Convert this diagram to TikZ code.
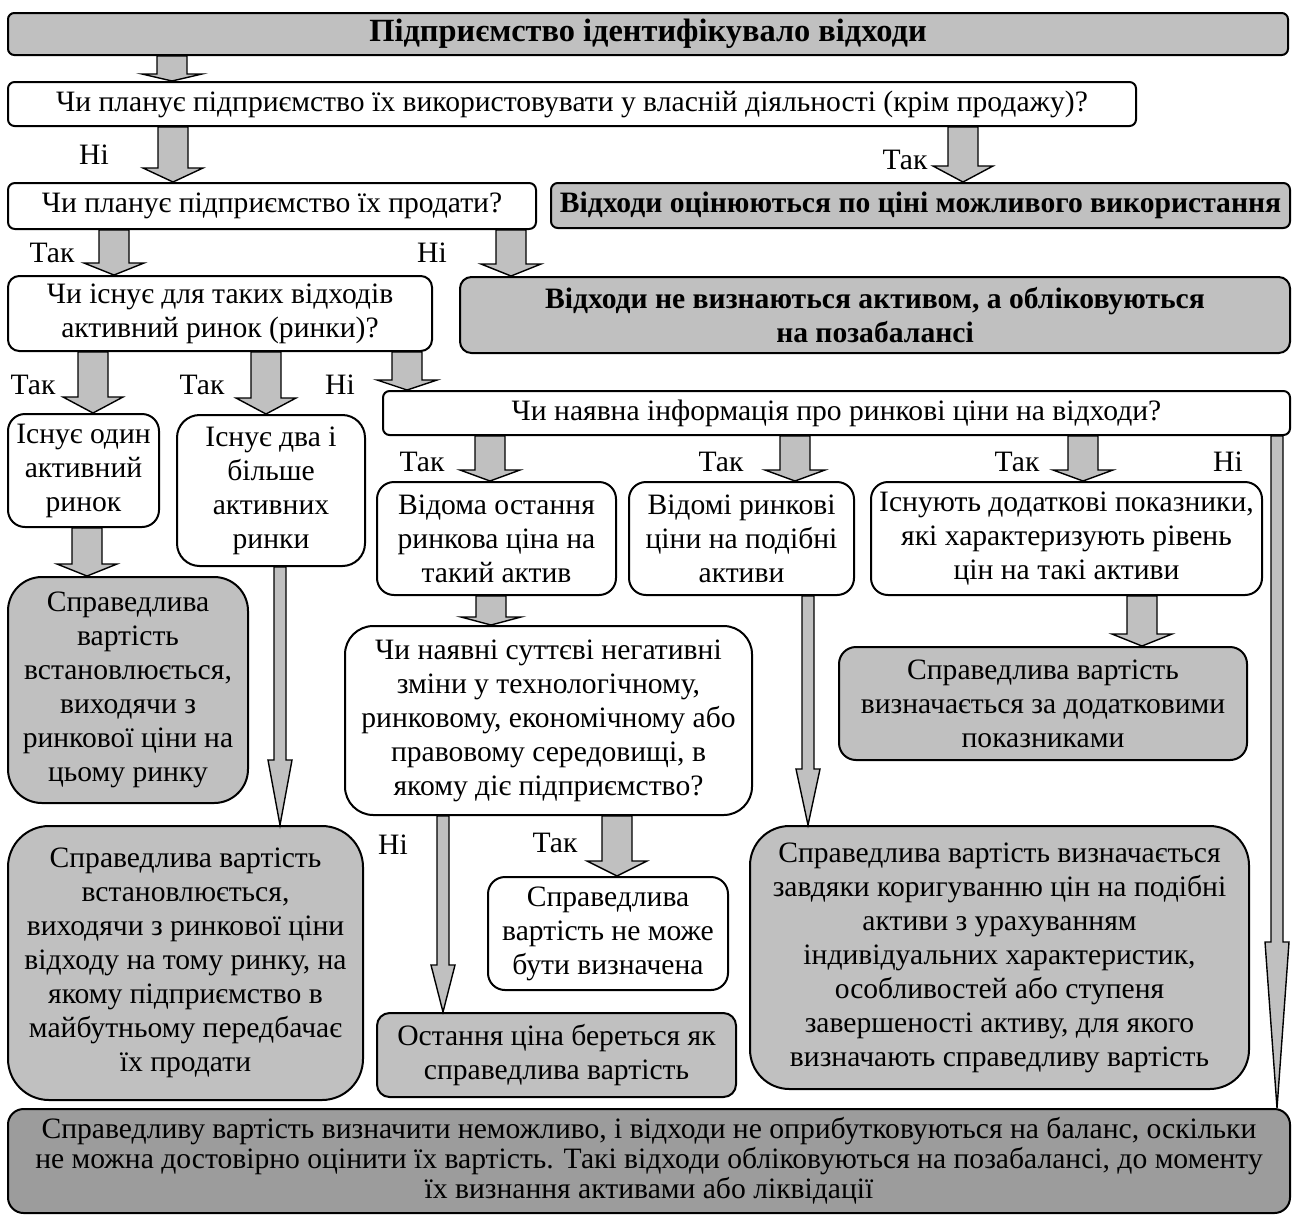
\documentclass[tikz,border=0pt]{standalone}
\usepackage{fontspec}
\setmainfont{Liberation Serif}
\usetikzlibrary{calc}
\definecolor{lg}{HTML}{C0C0C0}
\definecolor{dg}{HTML}{9C9C9C}
\newcommand\mkbox[7]{%
  \pgfmathsetmacro\bxw{(#5-#3)*0.5}%
  \pgfmathsetmacro\bxh{(#6-#4)*0.5}%
  \pgfmathsetmacro\bxr{0.15*min(\bxw,\bxh)}%
  \node[#1,minimum width=\bxw pt,minimum height=\bxh pt,rounded corners=\bxr pt] (#2) at ({(#3+#5)/2},{(#4+#6)/2}) {#7};}
\newcommand\blkarrow[6]{%
  \draw[arr] let \p1=(#1.south), \p2=(#2.north) in
    ({(#3-#4)*0.5pt},\y1) -- ({(#3-#4)*0.5pt},{\y2+#6*0.5pt}) -- ({(#3-#5)*0.5pt},{\y2+#6*0.5pt}) -- ({#3*0.5pt},\y2) -- ({(#3+#5)*0.5pt},{\y2+#6*0.5pt}) -- ({(#3+#4)*0.5pt},{\y2+#6*0.5pt}) -- ({(#3+#4)*0.5pt},\y1) -- cycle;}
\begin{document}
\begin{tikzpicture}[x=0.5pt,y=-0.5pt,
  bx/.style={draw,line width=1pt,inner sep=0pt,align=center,font=\fontsize{14.8pt}{17pt}\selectfont},
  wbox/.style={bx,fill=white},
  gbox/.style={bx,fill=lg},
  bgbox/.style={bx,fill=lg,font=\fontsize{14.8pt}{17pt}\selectfont\bfseries},
  titlebox/.style={bx,fill=lg,font=\fontsize{16.2pt}{18pt}\selectfont\bfseries},
  dbox/.style={bx,fill=dg,font=\fontsize{14.8pt}{15pt}\selectfont},
  arr/.style={draw,fill=lg,line width=0.7pt,line join=miter},
  lbl/.style={inner sep=0pt,font=\fontsize{14.8pt}{17pt}\selectfont}]
\useasboundingbox (0,0) rectangle (1293,1216);

\mkbox{titlebox}{top}{8}{13}{1288}{55}{Підприємство ідентифікувало відходи}
\mkbox{wbox}{q1}{8}{82}{1136}{126}{Чи планує підприємство їх використовувати у власній діяльності (крім продажу)?}
\mkbox{wbox}{q2}{8}{183}{536}{229}{Чи планує підприємство їх продати?}
\mkbox{bgbox}{r1}{551}{183}{1290}{228}{Відходи оцінюються по ціні можливого використання}
\mkbox{wbox}{q3}{8}{276}{432}{351}{Чи існує для таких відходів\\активний ринок (ринки)?}
\mkbox{bgbox}{r2}{460}{277}{1290}{353}{Відходи не визнаються активом, а обліковуються\\на позабалансі}
\mkbox{wbox}{q4}{383}{391}{1290}{435}{Чи наявна інформація про ринкові ціни на відходи?}
\mkbox{wbox}{one}{8}{414}{159}{527}{Існує один\\активний\\ринок}
\mkbox{wbox}{two}{177}{415}{365}{566}{Існує два і\\більше\\активних\\ринки}
\mkbox{wbox}{last}{377}{482}{616}{595}{Відома остання\\ринкова ціна на\\такий актив}
\mkbox{wbox}{sim}{629}{482}{854}{595}{Відомі ринкові\\ціни на подібні\\активи}
\mkbox{wbox}{add}{871}{482}{1262}{595}{Існують додаткові показники,\\які характеризують рівень\\цін на такі активи}
\mkbox{gbox}{A}{8}{577}{248}{803}{Справедлива\\вартість\\встановлюється,\\виходячи з\\ринкової ціни на\\цьому ринку}
\mkbox{gbox}{B}{8}{826}{363}{1100}{Справедлива вартість\\встановлюється,\\виходячи з ринкової ціни\\відходу на тому ринку, на\\якому підприємство в\\майбутньому передбачає\\їх продати}
\mkbox{wbox}{q5}{345}{626}{752}{815}{Чи наявні суттєві негативні\\зміни у технологічному,\\ринковому, економічному або\\правовому середовищі, в\\якому діє підприємство?}
\mkbox{wbox}{nc}{488}{877}{728}{990}{Справедлива\\вартість не може\\бути визначена}
\mkbox{gbox}{lp}{377}{1013}{736}{1097}{Остання ціна береться як\\справедлива вартість}
\mkbox{gbox}{ad}{839}{647}{1247}{760}{Справедлива вартість\\визначається за додатковими\\показниками}
\mkbox{gbox}{C}{750}{826}{1249}{1089}{Справедлива вартість визначається\\завдяки коригуванню цін на подібні\\активи з урахуванням\\індивідуальних характеристик,\\особливостей або ступеня\\завершеності активу, для якого\\визначають справедливу вартість}
\mkbox{dbox}{bot}{8}{1109}{1290}{1213}{Справедливу вартість визначити неможливо, і відходи не оприбутковуються на баланс, оскільки\\не можна достовірно оцінити їх вартість. Такі відходи обліковуються на позабалансі, до моменту\\їх визнання активами або ліквідації}

\blkarrow{top}{q1}{172}{15}{30}{7}
\blkarrow{q1}{q2}{173}{15}{30}{14}
\blkarrow{q1}{r1}{963}{15}{30}{16}
\blkarrow{q2}{q3}{114}{15}{30}{12}
\blkarrow{q2}{r2}{511}{15}{30}{12}
\blkarrow{q3}{one}{93}{15}{30}{16}
\blkarrow{q3}{two}{266}{15}{30}{16}
\blkarrow{q3}{q4}{407}{15}{30}{10}
\blkarrow{one}{A}{87}{15}{30}{12}
\blkarrow{two}{B}{280}{6}{12}{65}
\blkarrow{q4}{last}{490}{15}{30}{11}
\blkarrow{q4}{sim}{795}{15}{30}{11}
\blkarrow{q4}{add}{1083}{15}{30}{11}
\blkarrow{q4}{bot}{1277}{6}{12}{166}
\blkarrow{last}{q5}{491}{15}{30}{8}
\blkarrow{sim}{C}{808}{6}{12}{56}
\blkarrow{add}{ad}{1142}{15}{30}{12}
\blkarrow{q5}{lp}{443}{6}{12}{47}
\blkarrow{q5}{nc}{617}{15}{30}{15}

\node[lbl] (t1) at (94,155) {Ні};
\node[lbl] (t2) at (905,160) {Так};
\node[lbl] (t3) at (52,253) {Так};
\node[lbl] (t4) at (432,253) {Ні};
\node[lbl] (t5) at (33,385) {Так};
\node[lbl] (t6) at (202,385) {Так};
\node[lbl] (t7) at (340,385) {Ні};
\node[lbl] (t8) at (422,462) {Так};
\node[lbl] (t9) at (721,462) {Так};
\node[lbl] (t10) at (1017,462) {Так};
\node[lbl] (t11) at (1228,462) {Ні};
\node[lbl] (t12) at (393,845) {Ні};
\node[lbl] (t13) at (555,843) {Так};
\end{tikzpicture}
\end{document}
